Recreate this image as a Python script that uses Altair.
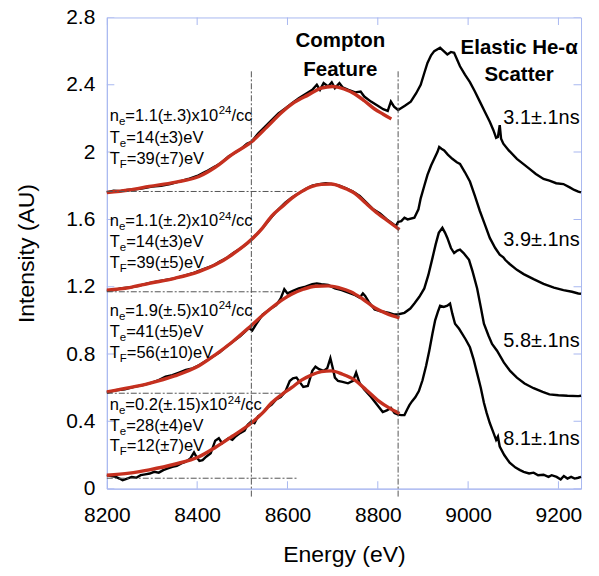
import altair as alt
import pandas as pd

# ---------------- data ----------------
x_ticks = [8200, 8400, 8600, 8800, 9000, 9200]
y_ticks = [0, 0.4, 0.8, 1.2, 1.6, 2.0, 2.4, 2.8]

# 3.1 ns spectrum (top)
s1_e = [8200,8215,8230,8245,8260,8280,8300,8320,8340,8360,8380,8400,8420,8440,8455,8470,8480,8495,8510,8520,
        8535,8550,8565,8580,8595,8610,8625,8640,8655,8665,8672,8680,8690,8698,8705,8715,8722,8735,8750,8762,
        8770,8785,8800,8812,8822,8829,8836,8845,8860,8873,8885,8895,8903,8910,8918,8925,8938,8946,8954,8962,
        8969,8982,8993,9004,9015,9026,9037,9048,9056,9062,9066,9070,9073,9078,9090,9108,9122,9136,9150,9167,
        9180,9195,9211,9225,9235,9244,9250]
s1_v = [1.760,1.770,1.768,1.775,1.778,1.785,1.795,1.800,1.810,1.825,1.840,1.858,1.885,1.915,1.940,1.975,1.990,2.015,2.050,2.060,
        2.110,2.150,2.190,2.230,2.260,2.290,2.320,2.345,2.370,2.400,2.370,2.410,2.390,2.415,2.380,2.410,2.385,2.370,2.355,2.360,
        2.330,2.300,2.275,2.255,2.245,2.300,2.270,2.250,2.275,2.300,2.350,2.400,2.470,2.530,2.575,2.600,2.620,2.600,2.580,2.595,
        2.590,2.510,2.460,2.416,2.360,2.300,2.240,2.180,2.130,2.085,2.090,2.160,2.080,2.050,2.010,1.960,1.930,1.900,1.870,1.840,
        1.830,1.815,1.810,1.790,1.775,1.765,1.760]

# 3.9 ns spectrum
s2_e = [8200,8215,8230,8250,8270,8290,8310,8330,8350,8370,8390,8405,8420,8435,8450,8465,8480,8495,8510,8520,
        8535,8550,8565,8580,8595,8610,8625,8640,8655,8670,8685,8700,8715,8730,8745,8760,8775,8790,8805,8820,
        8833,8840,8845,8852,8859,8866,8881,8890,8895,8903,8910,8918,8925,8932,8936,8941,8947,8955,8965,8975,
        8982,8993,9004,9015,9026,9037,9048,9060,9070,9078,9082,9092,9108,9123,9145,9167,9190,9211,9230,9244,9250]
s2_v = [1.175,1.180,1.190,1.195,1.205,1.220,1.230,1.240,1.250,1.265,1.280,1.295,1.310,1.325,1.350,1.370,1.400,1.425,1.455,1.480,
        1.520,1.565,1.615,1.660,1.700,1.730,1.755,1.780,1.800,1.810,1.815,1.810,1.800,1.785,1.765,1.740,1.700,1.660,1.635,1.600,
        1.575,1.560,1.585,1.590,1.610,1.600,1.610,1.660,1.725,1.800,1.865,1.920,1.960,2.000,2.030,2.020,2.010,1.985,1.960,1.940,
        1.930,1.880,1.825,1.740,1.650,1.570,1.490,1.430,1.390,1.375,1.360,1.335,1.300,1.275,1.245,1.217,1.195,1.180,1.170,1.160,1.158]

# 5.8 ns spectrum
s3_e = [8200,8220,8240,8260,8280,8300,8315,8330,8345,8360,8375,8390,8405,8420,8435,8450,8465,8480,8495,8505,
        8515,8522,8530,8545,8560,8575,8585,8593,8600,8612,8625,8640,8655,8665,8675,8690,8705,8720,8735,8750,
        8760,8767,8772,8780,8793,8805,8815,8825,8835,8844,8859,8872,8881,8892,8903,8912,8921,8928,8935,8943,
        8949,8954,8962,8969,8976,8982,8990,9002,9010,9020,9028,9035,9045,9053,9064,9079,9093,9108,9125,9145,
        9165,9180,9200,9220,9244,9250]
s3_v = [0.570,0.585,0.590,0.605,0.615,0.630,0.645,0.665,0.675,0.690,0.705,0.715,0.735,0.760,0.785,0.810,0.845,0.875,0.905,0.930,
        0.955,0.940,0.975,1.035,1.065,1.090,1.130,1.185,1.160,1.175,1.190,1.200,1.215,1.220,1.215,1.210,1.190,1.180,1.165,1.150,
        1.135,1.160,1.145,1.110,1.065,1.055,1.050,1.045,1.035,1.035,1.045,1.070,1.100,1.140,1.190,1.270,1.370,1.450,1.520,1.550,
        1.520,1.490,1.430,1.400,1.415,1.420,1.400,1.360,1.290,1.190,1.080,0.980,0.910,0.860,0.820,0.750,0.700,0.660,0.625,0.597,
        0.575,0.560,0.555,0.552,0.550,0.552]

# 8.1 ns spectrum (bottom)
s4_e = [8200,8210,8220,8228,8235,8245,8255,8265,8275,8285,
        8295,8305,8315,8325,8335,8345,8355,8365,8375,8385,
        8393,8398,8405,8412,8420,8430,8440,8448,8455,8462,
        8470,8478,8485,8495,8505,8512,8520,8527,8535,8545,
        8555,8565,8575,8585,8595,8605,8612,8620,8628,8635,
        8645,8655,8662,8670,8680,8688,8695,8700,8705,8712,
        8722,8734,8745,8752,8760,8770,8785,8798,8811,8820,
        8829,8837,8845,8852,8859,8865,8870,8876,8883,8891,
        8899,8907,8914,8921,8927,8933,8938,8946,8954,8960,
        8965,8971,8980,8987,8995,9004,9012,9020,9028,9035,
        9041,9048,9055,9062,9066,9070,9080,9092,9105,9115,
        9123,9135,9145,9155,9167,9178,9185,9196,9205,9212,
        9220,9228,9236,9244,9250]
s4_v = [0.080,0.075,0.070,0.060,0.050,0.060,0.070,0.065,0.080,0.085,
        0.090,0.100,0.095,0.110,0.120,0.130,0.135,0.150,0.160,0.180,
        0.215,0.190,0.165,0.170,0.190,0.210,0.285,0.300,0.270,0.285,
        0.300,0.290,0.310,0.330,0.345,0.380,0.400,0.390,0.430,0.450,
        0.480,0.500,0.530,0.545,0.575,0.640,0.655,0.660,0.630,0.605,
        0.610,0.700,0.725,0.710,0.700,0.715,0.775,0.720,0.660,0.640,
        0.635,0.626,0.640,0.690,0.626,0.590,0.545,0.500,0.455,0.465,
        0.480,0.450,0.440,0.437,0.437,0.470,0.496,0.520,0.543,0.580,
        0.644,0.730,0.820,0.920,1.000,1.050,1.087,1.080,1.087,1.100,
        1.040,0.980,0.950,0.920,0.885,0.840,0.770,0.685,0.600,0.510,
        0.450,0.390,0.340,0.290,0.310,0.250,0.200,0.154,0.125,0.110,
        0.100,0.090,0.095,0.080,0.083,0.070,0.080,0.070,0.055,0.075,
        0.060,0.070,0.060,0.065,0.070]

# red fits (Compton feature)
f1_e = [8200,8250,8294,8350,8404,8440,8477,8520,8555,8587,8615,8646,8675,8700,8725,8749,8770,8793,8812,8830]
f1_v = [1.760,1.775,1.796,1.820,1.855,1.910,1.985,2.060,2.150,2.235,2.295,2.340,2.380,2.390,2.375,2.345,2.305,2.256,2.225,2.197]
f2_e = [8200,8250,8294,8350,8404,8440,8477,8520,8545,8565,8590,8609,8631,8653,8675,8697,8722,8749,8770,8793,8820,8848]
f2_v = [1.180,1.195,1.220,1.250,1.290,1.330,1.390,1.480,1.550,1.620,1.680,1.725,1.765,1.795,1.808,1.810,1.790,1.755,1.705,1.650,1.595,1.540]
f3_e = [8200,8250,8294,8350,8404,8440,8477,8520,8545,8565,8590,8609,8635,8662,8690,8715,8740,8765,8793,8820,8848]
f3_v = [0.575,0.600,0.626,0.670,0.730,0.795,0.870,0.970,1.030,1.075,1.125,1.155,1.185,1.203,1.205,1.193,1.170,1.130,1.075,1.040,1.015]
f4_e = [8200,8250,8294,8350,8404,8440,8477,8520,8545,8565,8590,8609,8631,8653,8675,8697,8722,8749,8775,8800,8825,8848]
f4_v = [0.080,0.092,0.112,0.145,0.190,0.245,0.310,0.390,0.450,0.510,0.565,0.600,0.645,0.675,0.695,0.700,0.680,0.645,0.585,0.525,0.480,0.447]

# dash-dot guides
vline_e = [8520, 8845]
vline_top, vline_bottom = 2.48, -0.05
hline_v = [1.766, 1.170, 0.567, 0.062]
hline_end = [8620, 8588, 8588, 8620]

# annotations
ne_vals = ["=1.1(±.3)x10", "=1.1(±.2)x10", "=1.9(±.5)x10", "=0.2(±.15)x10"]
te_vals = ["=14(±3)eV", "=14(±3)eV", "=41(±5)eV", "=28(±4)eV"]
tf_vals = ["=39(±7)eV", "=39(±5)eV", "=56(±10)eV", "=12(±7)eV"]
ne_y = [2.185, 1.559, 1.028, 0.467]
te_y = [2.055, 1.435, 0.901, 0.343]
tf_y = [1.931, 1.314, 0.777, 0.222]

time_labels = ["3.1±.1ns", "3.9±.1ns", "5.8±.1ns", "8.1±.1ns"]
time_y = [2.168, 1.441, 0.839, 0.260]

head_text = ["Compton", "Feature", "Elastic He-α", "Scatter"]
head_e = [8717, 8717, 9113, 9113]
head_v = [2.625, 2.455, 2.585, 2.420]

# ---------------- layout ----------------
W, H = 475, 472
XMIN, XMAX, YMIN, YMAX = 8200, 9250, 0.0, 2.8
BLUE = "#a9b8f0"
RED = "#c5301f"
FONT = "Liberation Sans"
EV_PER_PX = (XMAX - XMIN) / W
V_PER_PX = (YMAX - YMIN) / H

xscale = alt.Scale(domain=[XMIN, XMAX], nice=False, zero=False)
yscale = alt.Scale(domain=[YMIN, YMAX], nice=False, zero=False)
xaxis = alt.Axis(values=x_ticks, format="d", title="Energy (eV)", grid=False, ticks=False,
                 domainColor=BLUE, labelFont=FONT, labelFontSize=21, labelColor="black",
                 labelPadding=16, labelFlush=False, titleFont=FONT, titleFontSize=23,
                 titleFontWeight="normal", titleColor="black", titleX=W / 2, titleY=73,
                 titleBaseline="alphabetic", titleAlign="center")
yaxis = alt.Axis(values=y_ticks, format="~g", title="Intensity (AU)", grid=False, ticks=False,
                 domainColor=BLUE, labelFont=FONT, labelFontSize=21, labelColor="black",
                 labelPadding=12, labelFlush=False, titleFont=FONT, titleFontSize=23,
                 titleFontWeight="normal", titleColor="black", titleX=-73, titleY=H / 2,
                 titleAngle=270, titleBaseline="alphabetic", titleAlign="center")

def X(f):
    return alt.X(f, type="quantitative", scale=xscale, axis=xaxis)

def Y(f):
    return alt.Y(f, type="quantitative", scale=yscale, axis=yaxis)

def series_df(pairs):
    frames = []
    for k, (e, v) in enumerate(pairs):
        n = min(len(e), len(v))
        frames.append(pd.DataFrame({"E": e[:n], "V": v[:n], "s": k, "i": range(n)}))
    return pd.concat(frames, ignore_index=True)

black_df = series_df([(s1_e, s1_v), (s2_e, s2_v), (s3_e, s3_v), (s4_e, s4_v)])
red_df = series_df([(f1_e, f1_v), (f2_e, f2_v), (f3_e, f3_v), (f4_e, f4_v)])

black = alt.Chart(black_df).mark_line(color="black", strokeWidth=2.4).encode(
    x=X("E"), y=Y("V"), detail="s:N", order="i:Q")
red = alt.Chart(red_df).mark_line(color=RED, strokeWidth=3.4, interpolate="monotone").encode(
    x=X("E"), y=Y("V"), detail="s:N", order="i:Q")

vdf = pd.DataFrame({"E": vline_e, "V": [vline_top] * len(vline_e), "V2": [vline_bottom] * len(vline_e)})
vlines = alt.Chart(vdf).mark_rule(color="#555555", strokeWidth=1, strokeDash=[6, 2, 2, 2], clip=False).encode(
    x=X("E"), y=Y("V"), y2="V2")
hdf = pd.DataFrame({"E": [XMIN] * len(hline_v), "E2": hline_end, "V": hline_v})
hlines = alt.Chart(hdf).mark_rule(color="#555555", strokeWidth=1, strokeDash=[6, 2, 2, 2]).encode(
    x=X("E"), x2="E2", y=Y("V"))

# inward ticks on all four sides
tx = pd.DataFrame({"E": x_ticks * 2, "V": [YMIN] * len(x_ticks) + [YMAX] * len(x_ticks)})
ty = pd.DataFrame({"E": [XMIN] * len(y_ticks) + [XMAX] * len(y_ticks), "V": y_ticks * 2})
ticks_x = alt.Chart(tx).mark_tick(orient="vertical", size=15, thickness=1, color=BLUE, clip=True,
                                  opacity=1).encode(x=X("E"), y=Y("V"))
ticks_y = alt.Chart(ty).mark_tick(orient="horizontal", size=15, thickness=1, color=BLUE, clip=True,
                                  opacity=1).encode(x=X("E"), y=Y("V"))

# annotation pieces (sub/superscripts)
AW = {"n": .556, "T": .611, "e": .556, "F": .611, "=": .584, "(": .333, ")": .333, "±": .584,
      ".": .278, "x": .5, "/": .278, "c": .5, "V": .667}
def tw(s, size):
    return sum(AW.get(ch, .556) for ch in s) * size

SZ, SUB = 16.5, 11.5
E0 = 8206.5
rows = []
def piece(px, v, dy, size, text):
    rows.append({"E": E0 + px * EV_PER_PX, "V": v - dy * V_PER_PX, "size": size, "t": text})

for i in range(4):
    p = 0.0
    piece(p, ne_y[i], 0, SZ, "n"); p += tw("n", SZ)
    piece(p, ne_y[i], 4, SUB, "e"); p += tw("e", SUB)
    piece(p, ne_y[i], 0, SZ, ne_vals[i]); p += tw(ne_vals[i], SZ)
    piece(p, ne_y[i], -6.5, SUB, "24"); p += tw("24", SUB)
    piece(p, ne_y[i], 0, SZ, "/cc")
    for base, sub, val in ((te_y[i], "e", te_vals[i]), (tf_y[i], "F", tf_vals[i])):
        p = 0.0
        piece(p, base, 0, SZ, "T"); p += tw("T", SZ)
        piece(p, base, 4, SUB, sub); p += tw(sub, SUB)
        piece(p, base, 0, SZ, val)

ann = alt.Chart(pd.DataFrame(rows)).mark_text(align="left", baseline="alphabetic", font=FONT,
                                               color="black").encode(
    x=X("E"), y=Y("V"), text="t:N", size=alt.Size("size:Q", scale=None, legend=None))

tdf = pd.DataFrame({"E": [9247] * 4, "V": time_y, "t": time_labels})
times = alt.Chart(tdf).mark_text(align="right", baseline="alphabetic", font=FONT, fontSize=20,
                                 color="black").encode(x=X("E"), y=Y("V"), text="t:N")

hdf2 = pd.DataFrame({"E": head_e, "V": head_v, "t": head_text})
heads = alt.Chart(hdf2).mark_text(align="center", baseline="alphabetic", font=FONT, fontSize=20.5,
                                  fontWeight="bold", color="black").encode(x=X("E"), y=Y("V"), text="t:N")

chart = alt.layer(black, red, vlines, hlines, ticks_x, ticks_y, ann, times, heads).properties(
    width=W, height=H,
    padding={"left": 99, "top": 9, "right": 10, "bottom": 80},
    autosize=alt.AutoSizeParams(type="none"),
    background="white",
).configure_view(stroke=BLUE, strokeWidth=1)

chart.save("out.html", embed_options={"renderer": "svg", "actions": False})
